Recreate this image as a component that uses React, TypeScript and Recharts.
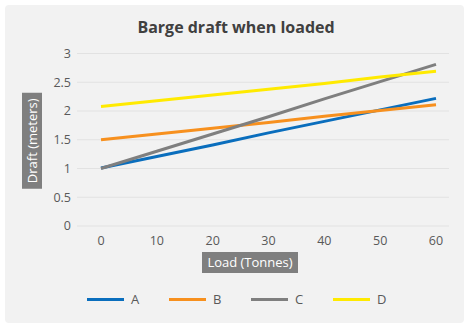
import React from "react";
import { LineChart, Line, XAxis, YAxis, CartesianGrid, Legend } from "recharts";

const loads = [0, 10, 20, 30, 40, 50, 60];
const seriesA = [1.01, 1.21, 1.41, 1.62, 1.82, 2.02, 2.22];
const seriesB = [1.5, 1.6, 1.7, 1.8, 1.91, 2.01, 2.11];
const seriesC = [1.0, 1.3, 1.6, 1.9, 2.21, 2.51, 2.81];
const seriesD = [2.08, 2.18, 2.28, 2.38, 2.48, 2.59, 2.69];
const yTicks = [0, 0.5, 1, 1.5, 2, 2.5, 3];
const seriesNames = ["A", "B", "C", "D"];
const seriesColors = ["#0a6ebd", "#f7901e", "#7f7f7f", "#ffea00"];

const data = loads.map((load, i) => ({
  load,
  A: seriesA[i],
  B: seriesB[i],
  C: seriesC[i],
  D: seriesD[i],
}));

const FONT = "'Open Sans', 'Noto Sans', sans-serif";

const XLabel = (props: any) => {
  const vb = props.viewBox || {};
  const cx = vb.x + vb.width / 2 - 13;
  const y = vb.y + 26;
  return (
    <g>
      <rect x={cx - 48} y={y} width={96} height={21} fill="#7f7f7f" />
      <text x={cx} y={y + 15} textAnchor="middle" fill="#ffffff" fontSize={13} fontFamily={FONT}>
        Load (Tonnes)
      </text>
    </g>
  );
};

const YLabel = (props: any) => {
  const vb = props.viewBox || {};
  const cx = 32;
  const cy = vb.y + vb.height / 2 + 1;
  return (
    <g>
      <rect x={cx - 10} y={cy - 48} width={20} height={96} fill="#7f7f7f" />
      <text
        x={cx}
        y={cy}
        dy={4.5}
        textAnchor="middle"
        fill="#ffffff"
        fontSize={13}
        fontFamily={FONT}
        transform={`rotate(-90 ${cx} ${cy})`}
      >
        Draft (meters)
      </text>
    </g>
  );
};

const LegendContent = () => (
  <div style={{ display: "flex", paddingLeft: 87, fontFamily: FONT, fontSize: 13, color: "#595959" }}>
    {seriesNames.map((n, i) => (
      <div key={n} style={{ width: 82, display: "flex", alignItems: "center" }}>
        <div style={{ width: 37, height: 3, background: seriesColors[i], marginRight: 7 }} />
        <span>{n}</span>
      </div>
    ))}
  </div>
);

export default function App() {
  return (
    <div style={{ position: "fixed", left: 0, top: 0, width: 464, height: 323, background: "#ffffff" }}>
      <div
        style={{
          position: "absolute",
          left: 5,
          top: 5,
          width: 459,
          height: 318,
          background: "#f2f2f2",
          borderRadius: 4,
        }}
      />
      <div
        style={{
          position: "absolute",
          left: 0,
          top: 16,
          width: 472,
          textAlign: "center",
          fontFamily: FONT,
          fontWeight: 700,
          fontSize: 16,
          color: "#404040",
        }}
      >
        Barge draft when loaded
      </div>
      <div style={{ position: "absolute", left: 0, top: 0 }}>
        <LineChart width={464} height={323} data={data} margin={{ top: 53.5, right: 15, bottom: 67, left: 0 }}>
          <CartesianGrid horizontal={true} vertical={false} stroke="#e2e2e2" strokeWidth={1} />
          <XAxis
            dataKey="load"
            type="category"
            padding={{ left: 24, right: 13 }}
            axisLine={false}
            tickLine={false}
            height={30}
            tick={{ fill: "#595959", fontSize: 12.5, fontFamily: FONT }}
            tickMargin={4}
            label={<XLabel />}
          />
          <YAxis
            domain={[0, 3]}
            ticks={yTicks}
            width={77}
            axisLine={false}
            tickLine={false}
            tickSize={4}
            tickMargin={2}
            tick={{ fill: "#595959", fontSize: 12.5, fontFamily: FONT }}
            label={<YLabel />}
          />
          <Legend
            layout="horizontal"
            verticalAlign="middle"
            align="center"
            content={<LegendContent />}
            wrapperStyle={{ top: 290, left: 0, width: 464 }}
          />
          {seriesNames.map((n, i) => (
            <Line
              key={n}
              type="linear"
              dataKey={n}
              stroke={seriesColors[i]}
              strokeWidth={3}
              dot={false}
              activeDot={false}
              isAnimationActive={false}
            />
          ))}
        </LineChart>
      </div>
    </div>
  );
}
